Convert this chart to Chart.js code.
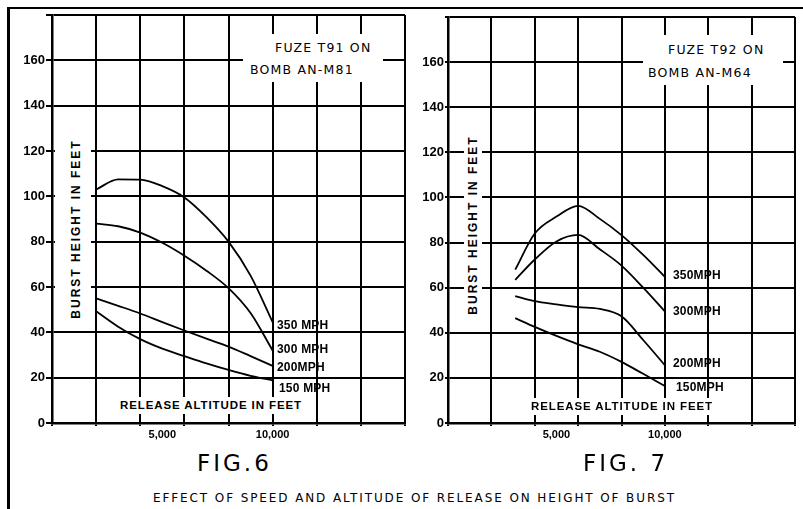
<!DOCTYPE html>
<html>
<head>
<meta charset="utf-8">
<script src="https://cdn.jsdelivr.net/npm/chart.js@4.4.0/dist/chart.umd.min.js"></script>
<style>
  body { margin: 0; background: #fff; }
  #wrap { position: relative; width: 803px; height: 509px; overflow: hidden; background: #fff; color: #000; font-family: "Liberation Sans", Arial, sans-serif; }
  canvas { position: absolute; top: 0; }
  .frame { position: absolute; background: #000; }
  .txt { position: absolute; white-space: nowrap; line-height: 1; z-index: 2; }
  .box { position: absolute; background: #fff; z-index: 1; }
  .note { font-family: "DejaVu Sans", sans-serif; font-size: 12.5px; letter-spacing: 1.2px; }
  .curve { font-weight: bold; font-size: 12px; letter-spacing: 0.2px; }
  .axis { font-weight: bold; font-size: 11.5px; letter-spacing: 0.9px; }
  .axis.vert { font-size: 12px; letter-spacing: 2px; }
  .fig { font-family: "DejaVu Sans", sans-serif; font-weight: normal; font-size: 23px; letter-spacing: 3px; }
  .vert { transform: translate(-50%, -50%) rotate(-90deg); }
</style>
</head>
<body>
<div id="wrap">
  <div class="frame" style="left:8px; top:7px; width:795px; height:2px;"></div>
  <div class="frame" style="left:7px; top:7px; width:2.5px; height:502px;"></div>

  <canvas id="fig6" width="420" height="445" style="left:0;"></canvas>
  <canvas id="fig7" width="403" height="445" style="left:400px;"></canvas>

  <!-- FIG. 6 annotations -->
  <div class="box" style="left:243px; top:34px; width:140px; height:48px;"></div>
  <div class="txt note" style="left:275px; top:42px;">FUZE T91 ON</div>
  <div class="txt note" style="left:250px; top:64px;">BOMB AN-M81</div>
  <div class="box" style="left:55px; top:134px; width:36px; height:190px;"></div>
  <div class="txt axis vert" style="left:76px; top:229px;">BURST HEIGHT IN FEET</div>
  <div class="box" style="left:116px; top:397px; width:190px; height:17px;"></div>
  <div class="txt axis" style="left:120px; top:400px;">RELEASE ALTITUDE IN FEET</div>
  <div class="txt curve" style="left:277px; top:319px;">350 MPH</div>
  <div class="txt curve" style="left:277px; top:343px;">300 MPH</div>
  <div class="txt curve" style="left:277px; top:361px;">200MPH</div>
  <div class="txt curve" style="left:279px; top:382px;">150 MPH</div>
  <div class="txt fig" style="left:197px; top:452px;">FIG.6</div>

  <!-- FIG. 7 annotations -->
  <div class="box" style="left:643px; top:35px; width:140px; height:50px;"></div>
  <div class="txt note" style="left:668px; top:44px;">FUZE T92 ON</div>
  <div class="txt note" style="left:648px; top:67px;">BOMB AN-M64</div>
  <div class="box" style="left:464px; top:132px; width:18px; height:186px;"></div>
  <div class="txt axis vert" style="left:473px; top:225px;">BURST HEIGHT IN FEET</div>
  <div class="box" style="left:527px; top:398px; width:190px; height:17px;"></div>
  <div class="txt axis" style="left:531px; top:401px;">RELEASE ALTITUDE IN FEET</div>
  <div class="txt curve" style="left:673px; top:269px;">350MPH</div>
  <div class="txt curve" style="left:673px; top:305px;">300MPH</div>
  <div class="txt curve" style="left:673px; top:357px;">200MPH</div>
  <div class="txt curve" style="left:676px; top:381px;">150MPH</div>
  <div class="txt fig" style="left:583px; top:452px;">FIG. 7</div>

  <div class="txt note" style="left:153px; top:492px; font-size:12px; letter-spacing:1.9px;">EFFECT OF SPEED AND ALTITUDE OF RELEASE ON HEIGHT OF BURST</div>
</div>

<script>
// release altitude (ft) and burst height (ft)
const altitudes6 = [2000, 3000, 4000, 5000, 6000, 7000, 8000, 9000, 10000];
const fig6mph350 = [103, 107.5, 107.4, 104.5, 99.5, 90.8, 80, 65, 44.5];
const fig6mph300 = [88, 86.8, 84, 79.5, 73.8, 67.2, 59.5, 48.5, 32];
const fig6mph200 = [55, 51.7, 48.3, 44.5, 40.8, 37.2, 33.7, 29.5, 25.2];
const fig6mph150 = [49.3, 42.5, 37, 32.8, 29.5, 26.3, 23.4, 20.8, 18.8];

const altitudes7 = [3100, 4000, 5000, 6000, 7000, 8000, 9000, 10000];
const fig7mph350 = [68, 84, 91.5, 96.3, 90.5, 83.3, 74.5, 64.8];
const fig7mph300 = [63.5, 72.5, 80.5, 83.4, 77, 69.8, 60, 49.5];
const fig7mph200 = [56.3, 54, 52.6, 51.4, 50.6, 47.3, 36.8, 25.6];
const fig7mph150 = [46.5, 42.6, 38.6, 34.9, 31.6, 27.1, 21.8, 16.4];

const gridAltitudes = [0, 2000, 4000, 6000, 8000, 10000, 12000, 14000, 16000];
const labelledAltitudes = [5000, 10000];
const heightTicks = [0, 20, 40, 60, 80, 100, 120, 140, 160, 180];

const xTickValues = [...gridAltitudes, ...labelledAltitudes.filter(v => !gridAltitudes.includes(v))].sort((a, b) => a - b);

function makeChart(id, altitudes, series, yWidth, yTickLen, padding) {
  return new Chart(document.getElementById(id), {
    type: 'line',
    data: {
      datasets: series.map(s => ({
        data: altitudes.map((a, i) => ({ x: a, y: s[i] })),
        borderColor: '#000',
        borderWidth: 1.8,
        pointRadius: 0,
        cubicInterpolationMode: 'monotone',
        fill: false
      }))
    },
    options: {
      responsive: false,
      animation: false,
      devicePixelRatio: 1,
      layout: { padding },
      plugins: { legend: { display: false }, tooltip: { enabled: false } },
      scales: {
        x: {
          type: 'linear',
          min: 0,
          max: 16000,
          afterBuildTicks: s => { s.ticks = xTickValues.map(v => ({ value: v })); },
          afterFit: s => { s.height = 22; },
          grid: {
            color: c => (c.tick && !gridAltitudes.includes(c.tick.value)) ? 'rgba(0,0,0,0)' : '#000',
            lineWidth: 2,
            tickLength: 3
          },
          border: { color: '#000', width: 2.5 },
          ticks: {
            autoSkip: false,
            maxRotation: 0,
            padding: 2,
            color: '#000',
            font: { family: 'Liberation Sans', size: 11, weight: 'bold' },
            callback: v => labelledAltitudes.includes(v) ? v.toLocaleString('en-US') : ''
          }
        },
        y: {
          type: 'linear',
          min: 0,
          max: 180,
          afterBuildTicks: s => { s.ticks = heightTicks.map(v => ({ value: v })); },
          afterFit: s => { s.width = yWidth; },
          grid: { color: '#000', lineWidth: 2, tickLength: yTickLen },
          border: { color: '#000', width: 2.5 },
          ticks: {
            padding: 1,
            color: '#000',
            font: { family: 'Liberation Sans', size: 13, weight: 'bold' },
            callback: v => v === 180 ? '' : String(v)
          }
        }
      }
    }
  });
}

makeChart('fig6', altitudes6, [fig6mph350, fig6mph300, fig6mph200, fig6mph150], 52, 6,
  { left: 0, top: 15, right: 15, bottom: 0 });
makeChart('fig7', altitudes7, [fig7mph350, fig7mph300, fig7mph200, fig7mph150], 48, 3,
  { left: 0, top: 17, right: 8, bottom: 0 });
</script>
</body>
</html>
